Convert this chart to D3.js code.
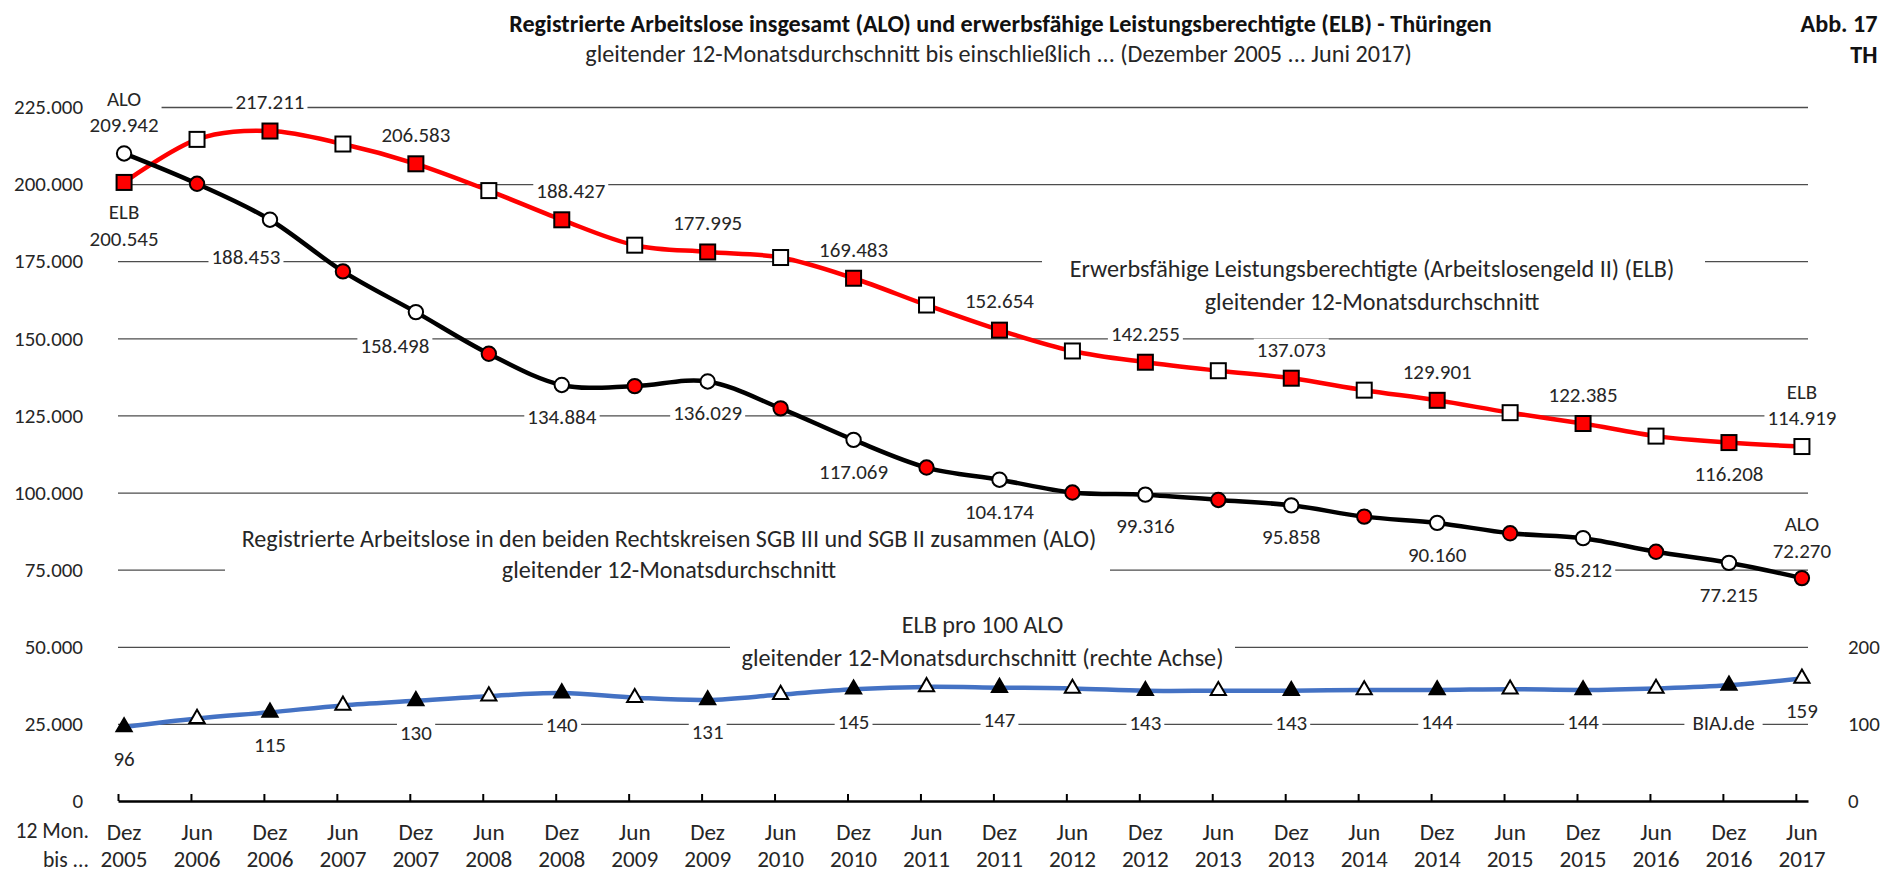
<!DOCTYPE html>
<html><head><meta charset="utf-8">
<script src="https://cdn.jsdelivr.net/npm/d3@7"></script>
<style>
body{margin:0;background:#fff}
svg{display:block}
text{font-family:Carlito,Calibri,Lato,sans-serif;fill:#262626}
</style>
</head><body>
<svg id="c" width="1884" height="873"></svg>
<script>
// ---------------- data ----------------
const months = ["Dez","Jun","Dez","Jun","Dez","Jun","Dez","Jun","Dez","Jun","Dez","Jun","Dez","Jun","Dez","Jun","Dez","Jun","Dez","Jun","Dez","Jun","Dez","Jun"];
const years  = ["2005","2006","2006","2007","2007","2008","2008","2009","2009","2010","2010","2011","2011","2012","2012","2013","2013","2014","2014","2015","2015","2016","2016","2017"];
// Registrierte Arbeitslose (ALO), gleitender 12-Monatsdurchschnitt
const alo = [209942,200100,188453,171700,158498,145000,134884,134500,136029,127300,117069,108100,104174,100000,99316,97600,95858,92200,90160,86800,85212,80800,77215,72270];
// Erwerbsfähige Leistungsberechtigte (ELB)
const elb = [200545,214500,217211,213000,206583,197900,188427,180200,177995,176200,169483,160800,152654,145900,142255,139500,137073,133200,129901,125900,122385,118300,116208,114919];
// ELB pro 100 ALO (rechte Achse)
const ratio = [96,107,115,124,130,136,140,134,131,138,145,148,147,146,143,143,143,144,144,145,144,146,150,159];
const leftTicks = [0,25000,50000,75000,100000,125000,150000,175000,200000,225000];
const rightTicks = [0,100,200];

// ---------------- setup ----------------
const svg = d3.select("#c");
const W = 1884, H = 873;
svg.append("rect").attr("width",W).attr("height",H).attr("fill","#fff");
const fmt = d3.formatLocale({decimal:",",thousands:".",grouping:[3],currency:["","€"]}).format(",d");

function fit(str, weight, target){
  const t = svg.append("text").attr("font-size",40).attr("font-weight",weight).text(str);
  const w = t.node().getComputedTextLength(); t.remove();
  return 40*target/w;
}
const numSize = fit("134.884","normal",69);
const axisSize = fit("2005","normal",47);

const X0 = 118, X1 = 1808;
const x = d3.scaleLinear().domain([0,139]).range([X0,X1]);   // months since Dez 2005
const px = i => x(i*6 + 0.5);
const y  = d3.scaleLinear().domain([0,225000]).range([801,107]);
const y2 = d3.scaleLinear().domain([0,900]).range([801,107]);

// ---------------- title ----------------
const titleStr = "Registrierte Arbeitslose insgesamt (ALO) und erwerbsfähige Leistungsberechtigte (ELB) - Thüringen";
const subStr = "gleitender  12-Monatsdurchschnitt bis einschließlich ... (Dezember 2005 ... Juni 2017)";
svg.append("text").attr("x",1000.5).attr("y",23.3).attr("dy","0.35em").attr("text-anchor","middle")
  .attr("font-weight","bold").attr("font-size",fit(titleStr,"bold",983)).style("fill","#111").text(titleStr);
svg.append("text").attr("x",998.5).attr("y",53.3).attr("dy","0.35em").attr("text-anchor","middle")
  .attr("font-size",fit(subStr,"normal",827)).text(subStr);
const abbSize = fit("Abb. 17","bold",77);
svg.append("text").attr("x",1877.5).attr("y",23.3).attr("dy","0.35em").attr("text-anchor","end")
  .attr("font-weight","bold").attr("font-size",abbSize).style("fill","#111").text("Abb. 17");
svg.append("text").attr("x",1877.5).attr("y",55).attr("dy","0.35em").attr("text-anchor","end")
  .attr("font-weight","bold").attr("font-size",abbSize).style("fill","#111").text("TH");

// ---------------- grid + left axis ----------------
const gy = svg.append("g").attr("transform",`translate(${X0},0)`)
  .call(d3.axisLeft(y).tickValues(leftTicks).tickSize(-(X1-X0)).tickPadding(35).tickFormat(fmt));
gy.attr("font-size",numSize);
gy.select(".domain").remove();
gy.selectAll(".tick line").attr("stroke","#4d4d4d").attr("stroke-width",1.3);
gy.selectAll(".tick").filter(d=>d===0).select("line").remove();

// right axis
const gr = svg.append("g").attr("transform",`translate(${X1},0)`)
  .call(d3.axisRight(y2).tickValues(rightTicks).tickSize(0).tickPadding(40));
gr.attr("font-size",numSize);
gr.select(".domain").remove();

// ---------------- annotation boxes ----------------
function annot(cx, centers, lines, box, size){
  const g = svg.append("g");
  g.append("rect").attr("x",box[0]).attr("y",box[2]).attr("width",box[1]-box[0]).attr("height",box[3]-box[2]).attr("fill","#fff");
  lines.forEach((s,k)=>g.append("text").attr("x",cx).attr("y",centers[k]).attr("dy","0.35em")
    .attr("text-anchor","middle").attr("font-size",size).text(s));
}
const l1 = "Erwerbsfähige Leistungsberechtigte (Arbeitslosengeld II) (ELB)";
annot(1372,[269,301.7],[l1,"gleitender 12-Monatsdurchschnitt"],[1042,1705,250,318],fit(l1,"normal",605));
const l2 = "Registrierte Arbeitslose in den beiden Rechtskreisen SGB III und SGB II zusammen (ALO)";
annot(669,[538.3,570],[l2,"gleitender 12-Monatsdurchschnitt"],[225,1110,520,588],fit(l2,"normal",855));
const l3 = "gleitender 12-Monatsdurchschnitt (rechte Achse)";
annot(982.5,[625,657.3],["ELB pro 100 ALO",l3],[730,1235,608,674],fit(l3,"normal",482));

// ---------------- x axis ----------------
const gx = svg.append("g").attr("transform","translate(0,801)")
  .call(d3.axisBottom(x).tickValues(d3.range(0,139,6)).tickSize(-7).tickSizeOuter(0).tickFormat(""));
gx.select(".domain").attr("stroke","#000").attr("stroke-width",2.6);
gx.selectAll(".tick line").attr("stroke","#000").attr("stroke-width",2);
const xl = svg.append("g");
months.forEach((m,i)=>{
  xl.append("text").attr("x",px(i)).attr("y",832).attr("dy","0.35em").attr("text-anchor","middle").attr("font-size",axisSize).text(m);
  xl.append("text").attr("x",px(i)).attr("y",859).attr("dy","0.35em").attr("text-anchor","middle").attr("font-size",axisSize).text(years[i]);
});
const monSize = fit("12 Mon.","normal",73.6);
xl.append("text").attr("x",89).attr("y",830).attr("dy","0.35em").attr("text-anchor","end").attr("font-size",monSize).text("12 Mon.");
xl.append("text").attr("x",89).attr("y",859).attr("dy","0.35em").attr("text-anchor","end").attr("font-size",monSize).text("bis ...");

// ---------------- lines ----------------
const mk = sc => d3.line().x((d,i)=>px(i)).y(d=>sc(d)).curve(d3.curveCardinal.tension(0));
svg.append("path").datum(ratio).attr("d",mk(y2)).attr("fill","none").attr("stroke","#4472C4").attr("stroke-width",4.5);
svg.append("path").datum(elb).attr("d",mk(y)).attr("fill","none").attr("stroke","#FF0000").attr("stroke-width",4.5);
svg.append("path").datum(alo).attr("d",mk(y)).attr("fill","none").attr("stroke","#000").attr("stroke-width",4.5);

// markers
svg.append("g").selectAll("rect").data(elb).join("rect")
  .attr("x",(d,i)=>px(i)-7.5).attr("y",d=>y(d)-7.5).attr("width",15).attr("height",15)
  .attr("fill",(d,i)=>i%2===0?"#FF0000":"#fff").attr("stroke","#000").attr("stroke-width",2);
svg.append("g").selectAll("circle").data(alo).join("circle")
  .attr("cx",(d,i)=>px(i)).attr("cy",d=>y(d)).attr("r",7.2)
  .attr("fill",(d,i)=>i%2===0?"#fff":"#FF0000").attr("stroke","#000").attr("stroke-width",2);
const tri = d3.symbol(d3.symbolTriangle, 100);
svg.append("g").selectAll("path").data(ratio).join("path")
  .attr("transform",(d,i)=>`translate(${px(i)},${y2(d)})`).attr("d",tri)
  .attr("fill",(d,i)=>i%2===0?"#000":"#fff").attr("stroke","#000").attr("stroke-width",2);

// ---------------- data labels ----------------
const labels = svg.append("g");
function drawLabel(cx, cy, lines, pad){
  pad = pad||3;
  const g = labels.append("g");
  lines.forEach((s,k)=>g.append("text").attr("x",cx).attr("y",cy+(k-(lines.length-1)/2)*26.5)
    .attr("dy","0.35em").attr("text-anchor","middle").attr("font-size",numSize).text(s));
  const b = g.node().getBBox();
  g.insert("rect",":first-child").attr("x",b.x-pad).attr("y",b.y+2).attr("width",b.width+2*pad)
    .attr("height",b.height-4).attr("fill","#fff");
}
// ALO
const aloShift = {2:[-24,37],4:[-21,34]};
alo.forEach((v,i)=>{
  if(i===0) drawLabel(px(i), y(v)-42, ["ALO",fmt(v)]);
  else if(i===alo.length-1) drawLabel(px(i), y(v)-41, ["ALO",fmt(v)]);
  else if(i%2===0){ const s = aloShift[i]||[0,31.5]; drawLabel(px(i)+s[0], y(v)+s[1], [fmt(v)]); }
});
// ELB
const elbShift = {6:[9,-29]};
elb.forEach((v,i)=>{
  if(i===0) drawLabel(px(i), y(v)+42.5, ["ELB",fmt(v)]);
  else if(i===elb.length-1) drawLabel(px(i), y(v)-42, ["ELB",fmt(v)]);
  else if(i===22) drawLabel(px(i), y(v)+31, [fmt(v)]);
  else if(i%2===0){ const s = elbShift[i]||[0,-29]; drawLabel(px(i)+s[0], y(v)+s[1], [fmt(v)]); }
});
// ratio
ratio.forEach((v,i)=>{
  if((i%2===0 && i!==22) || i===ratio.length-1) drawLabel(px(i), y2(v)+32, [String(v)]);
});
drawLabel(1723.5, 722.7, ["BIAJ.de"], 8);
</script>
</body></html>
